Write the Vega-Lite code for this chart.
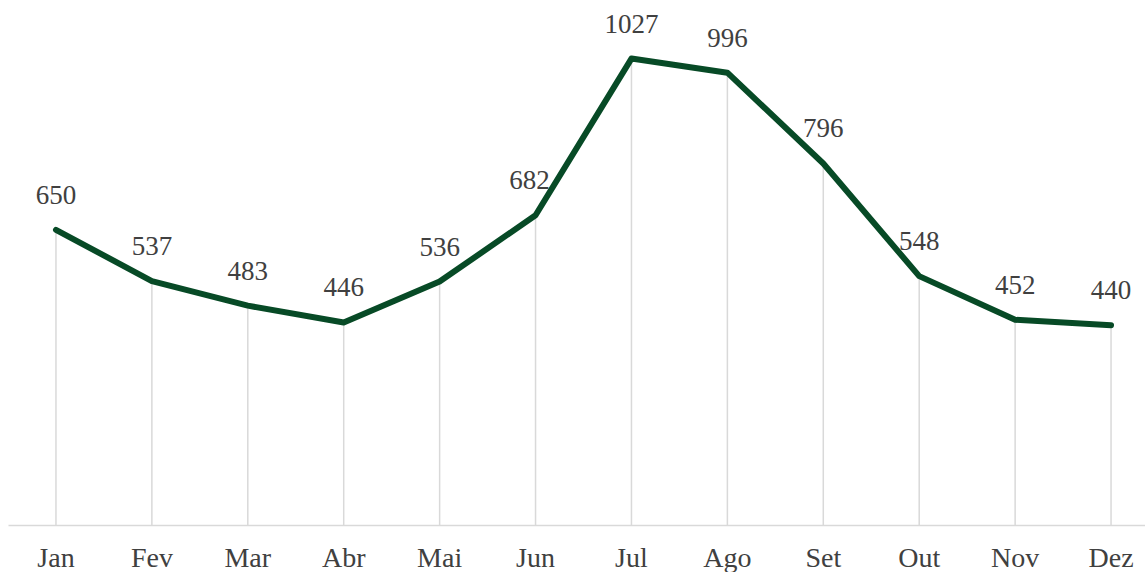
{
  "$schema": "https://vega.github.io/schema/vega-lite/v6.json",
  "width": 1151,
  "height": 525,
  "padding": {"left": 8, "top": 0, "right": 0, "bottom": 0},
  "background": "white",
  "config": {"view": {"stroke": null}, "font": "Liberation Serif"},
  "data": {
    "values": [
      {"month": "Jan", "value": 650},
      {"month": "Fev", "value": 537},
      {"month": "Mar", "value": 483},
      {"month": "Abr", "value": 446},
      {"month": "Mai", "value": 536},
      {"month": "Jun", "value": 682},
      {"month": "Jul", "value": 1027},
      {"month": "Ago", "value": 996},
      {"month": "Set", "value": 796},
      {"month": "Out", "value": 548},
      {"month": "Nov", "value": 452},
      {"month": "Dez", "value": 440}
    ]
  },
  "encoding": {
    "x": {
      "field": "month",
      "type": "ordinal",
      "sort": null,
      "scale": {"type": "band", "paddingInner": 0, "paddingOuter": 0},
      "axis": {
        "title": null,
        "labelAngle": 0,
        "ticks": false,
        "grid": false,
        "domainColor": "#d9d9d9",
        "domainWidth": 1.5,
        "labelFontSize": 28,
        "labelColor": "#404040",
        "labelPadding": 19,
        "labelFont": "Liberation Serif"
      }
    },
    "y": {
      "field": "value",
      "type": "quantitative",
      "scale": {"domain": [0, 1156], "nice": false, "zero": true},
      "axis": null
    }
  },
  "layer": [
    {
      "mark": {"type": "rule", "color": "#d9d9d9", "strokeWidth": 1.5},
      "encoding": {"y2": {"datum": 0}}
    },
    {
      "mark": {"type": "line", "color": "#074a26", "strokeWidth": 6, "strokeCap": "round", "strokeJoin": "round"},
      "encoding": {}
    },
    {
      "transform": [{"filter": "datum.month !== 'Jun'"}],
      "mark": {"type": "text", "dy": -34, "fontSize": 27, "color": "#404040", "baseline": "middle", "font": "Liberation Serif"},
      "encoding": {"text": {"field": "value", "type": "quantitative"}}
    },
    {
      "transform": [{"filter": "datum.month === 'Jun'"}],
      "mark": {"type": "text", "dy": -34, "dx": -6, "fontSize": 27, "color": "#404040", "baseline": "middle", "font": "Liberation Serif"},
      "encoding": {"text": {"field": "value", "type": "quantitative"}}
    }
  ]
}
